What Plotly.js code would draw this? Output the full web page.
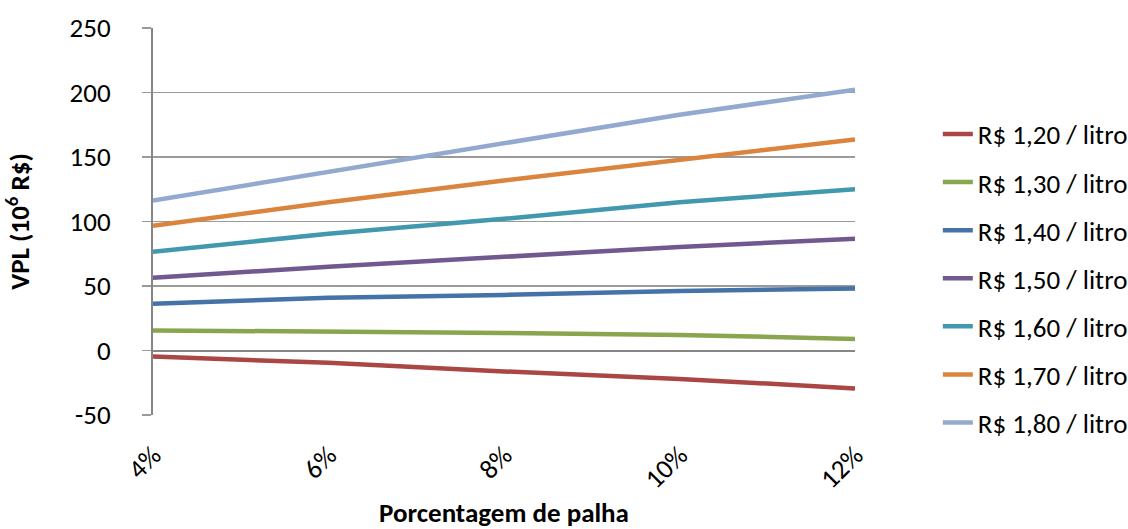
<!DOCTYPE html>
<html>
<head>
<meta charset="utf-8">
<script src="https://cdn.plot.ly/plotly-3.0.1.min.js"></script>
<style>html,body{margin:0;padding:0;background:#fff;}#chart{width:1128px;height:529px;}</style>
</head>
<body>
<div id="chart"></div>
<script>
const palha = [4, 6, 8, 10, 12];
const seriesNames = ["R$ 1,20 / litro", "R$ 1,30 / litro", "R$ 1,40 / litro", "R$ 1,50 / litro", "R$ 1,60 / litro", "R$ 1,70 / litro", "R$ 1,80 / litro"];
const vpl120 = [-4.7, -9.5, -16.2, -22.0, -29.4];
const vpl130 = [15.6, 14.9, 13.6, 12.1, 9.0];
const vpl140 = [36.3, 40.8, 43.1, 46.2, 48.0];
const vpl150 = [56.3, 64.9, 72.6, 80.3, 86.7];
const vpl160 = [76.6, 90.5, 102.1, 114.9, 125.1];
const vpl170 = [96.6, 114.9, 131.8, 148.0, 163.6];
const vpl180 = [116.3, 138.5, 160.5, 182.8, 202.2];
const yTicks = [-50, 0, 50, 100, 150, 200, 250];

const allSeries = [vpl120, vpl130, vpl140, vpl150, vpl160, vpl170, vpl180];
const colors = ["#AA4643", "#89A54E", "#4572A7", "#71588F", "#4198AF", "#DB843D", "#93A9CF"];
const FONT = "Carlito, Lato, 'Liberation Sans', sans-serif";

const traces = allSeries.map((ys, i) => ({
  x: palha, y: ys, name: seriesNames[i], type: "scatter", mode: "lines",
  line: {color: colors[i], width: 4.5},
  legendgroup: "g" + i
}));

const layout = {
  width: 1128, height: 529,
  margin: {l: 153, r: 273, t: 28, b: 114, autoexpand: false},
  paper_bgcolor: "#fff", plot_bgcolor: "#fff",
  font: {family: FONT, color: "#000", size: 27},
  showlegend: true,
  legend: {x: 1.118, xanchor: "left", y: 0.353, yanchor: "middle",
           font: {family: FONT, size: 27, color: "#000"},
           tracegroupgap: 10, itemwidth: 30},
  xaxis: {
    range: [4, 12], tickvals: palha, ticktext: palha.map(v => v + "%"),
    tickangle: -45, showgrid: false, zeroline: false, showline: false,
    ticks: "", ticklabelstandoff: 18, tickfont: {family: FONT, size: 27, color: "#000"},
    title: {text: "<b>Porcentagem de palha</b>", font: {family: FONT, size: 27, color: "#000"}, standoff: 12}
  },
  yaxis: {
    range: [-50, 250], tickvals: yTicks, ticktext: yTicks.map(v => String(v)),
    showgrid: true, gridcolor: "#9a9a9a", gridwidth: 1.5,
    zeroline: true, zerolinecolor: "#868686", zerolinewidth: 2,
    showline: true, linecolor: "#868686", linewidth: 2,
    ticks: "outside", ticklen: 9, tickcolor: "#9a9a9a", tickwidth: 1.5,
    ticklabelstandoff: 26,
    tickfont: {family: FONT, size: 27, color: "#000"},
    title: {text: "<b>VPL (10<sup>6</sup> R$)</b>", font: {family: FONT, size: 27, color: "#000"}, standoff: 34}
  }
};

Plotly.newPlot("chart", traces, layout, {displayModeBar: false, staticPlot: true});
</script>
</body>
</html>
